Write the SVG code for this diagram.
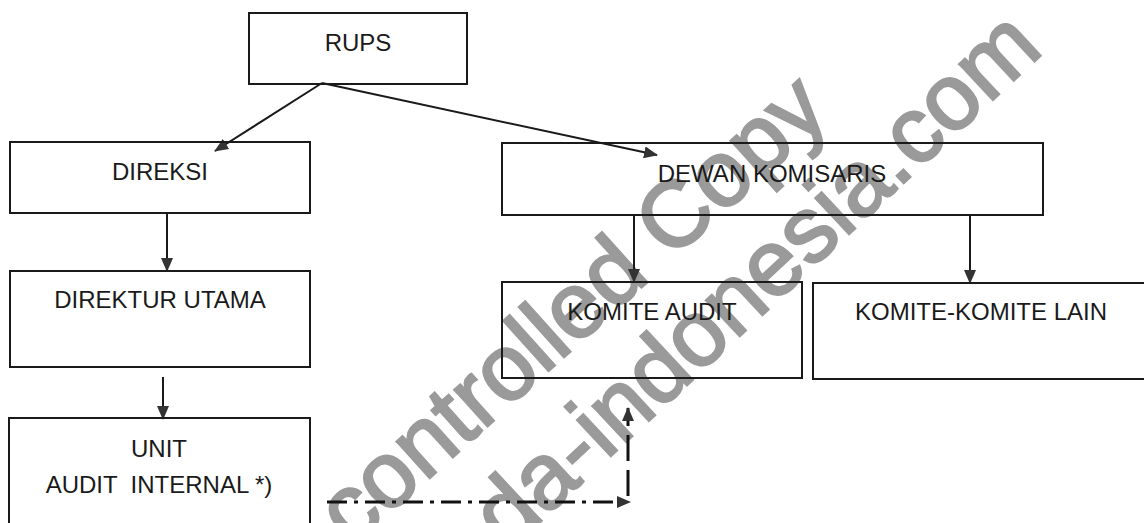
<svg xmlns="http://www.w3.org/2000/svg" width="1144" height="523" viewBox="0 0 1144 523">
<defs>
<style>
.box{fill:none;stroke:#1a1a1a;stroke-width:2}
.lbl{font-family:"Liberation Sans",Arial,sans-serif;font-size:24px;fill:#1a1a1a;text-anchor:middle}
.conn{stroke:#1a1a1a;stroke-width:2;fill:none}
.dd{stroke:#111;stroke-width:3;fill:none;stroke-dasharray:20 7 4 7}
.dv{stroke:#111;stroke-width:3;fill:none;stroke-dasharray:26 9}
.wm{font-family:"Liberation Sans",Arial,sans-serif;font-size:93px;fill:#9a9a9a;stroke:#9a9a9a;stroke-width:2.5}
</style>
<marker id="ah" markerWidth="14" markerHeight="12" refX="13" refY="6" orient="auto" markerUnits="userSpaceOnUse">
<path d="M0,0 L14,6 L0,12 Z" fill="#333"/>
</marker>
</defs>
<rect width="1144" height="523" fill="#fff"/>
<g id="watermark">
<text class="wm" transform="translate(352,548) rotate(-42)">controlled Copy</text>
<text class="wm" transform="translate(508,552) rotate(-43)">da-indonesia.com</text>
</g>
<g id="connectors">
<line class="conn" x1="322" y1="83" x2="215" y2="151" marker-end="url(#ah)"/>
<line class="conn" x1="322" y1="83" x2="657" y2="155" marker-end="url(#ah)"/>
<line class="conn" x1="167" y1="213" x2="167" y2="271" marker-end="url(#ah)"/>
<line class="conn" x1="163" y1="377" x2="163" y2="419" marker-end="url(#ah)"/>
<line class="conn" x1="634" y1="215" x2="634" y2="282" marker-end="url(#ah)"/>
<line class="conn" x1="970" y1="215" x2="970" y2="283" marker-end="url(#ah)"/>
<line class="dd" x1="327" y1="502" x2="630" y2="502" marker-end="url(#ah)"/>
<line class="dv" x1="628" y1="496" x2="628" y2="408" marker-end="url(#ah)"/>
</g>
<g id="rups">
<rect class="box" x="249" y="13" width="218" height="71"/>
<text class="lbl" x="358" y="51">RUPS</text>
</g>
<g id="direksi">
<rect class="box" x="10" y="142" width="300" height="71"/>
<text class="lbl" x="160" y="180">DIREKSI</text>
</g>
<g id="direktur-utama">
<rect class="box" x="10" y="271" width="300" height="96"/>
<text class="lbl" x="160" y="308">DIREKTUR UTAMA</text>
</g>
<g id="unit-audit-internal">
<rect class="box" x="9" y="418" width="301" height="120"/>
<text class="lbl" x="159" y="457">UNIT</text>
<text class="lbl" x="159" y="493" xml:space="preserve">AUDIT  INTERNAL *)</text>
</g>
<g id="dewan-komisaris">
<rect class="box" x="502" y="143" width="541" height="72"/>
<text class="lbl" x="772" y="182">DEWAN KOMISARIS</text>
</g>
<g id="komite-audit">
<rect class="box" x="502" y="282" width="300" height="96"/>
<text class="lbl" x="652" y="320">KOMITE AUDIT</text>
</g>
<g id="komite-lain">
<rect class="box" x="813" y="283" width="340" height="96"/>
<text class="lbl" x="981" y="320">KOMITE-KOMITE LAIN</text>
</g>
</svg>
